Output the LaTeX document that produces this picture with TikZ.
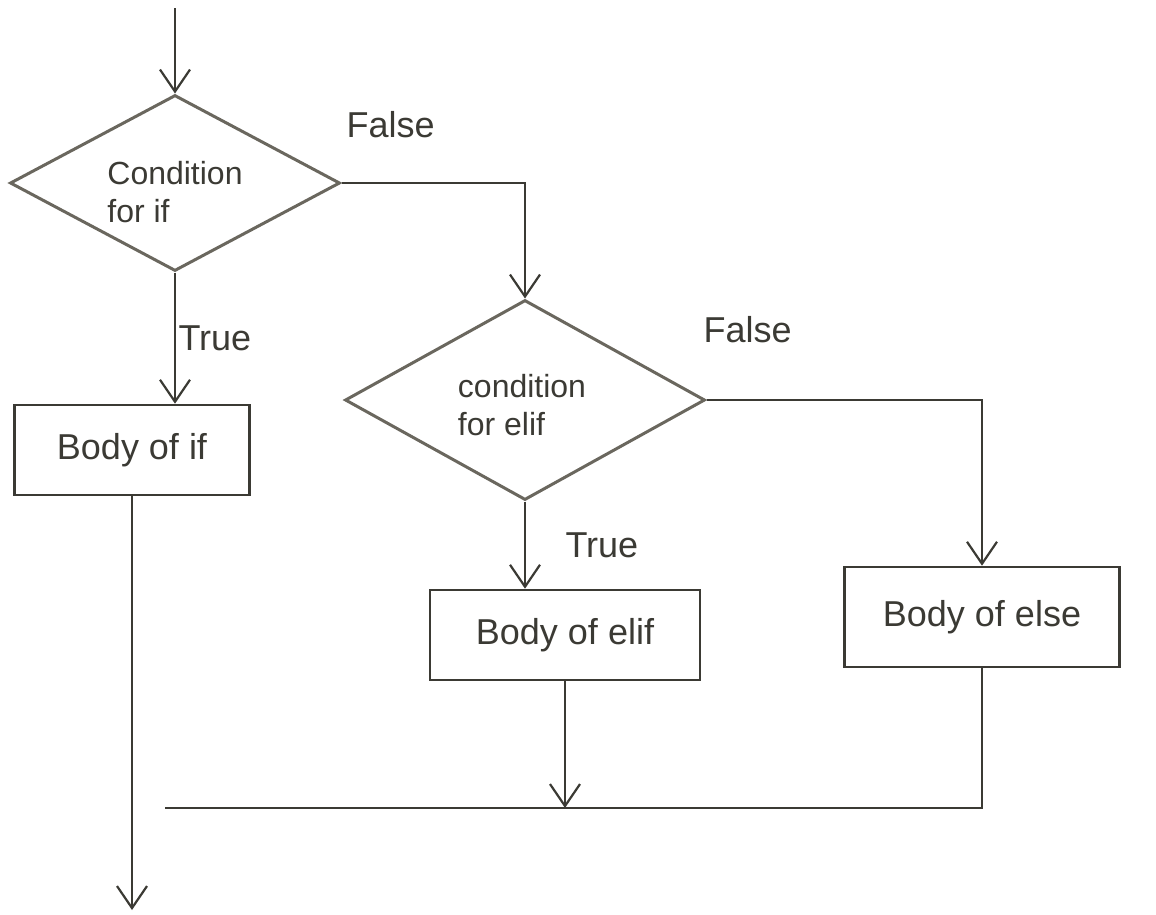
\documentclass[tikz,border=0pt]{standalone}
\usepackage{fontspec}
\setmainfont{Liberation Sans}
\usetikzlibrary{shapes.geometric,arrows.meta,calc}
\definecolor{pencil}{HTML}{3B3A34}
\definecolor{shade}{HTML}{6A675E}
\begin{document}
\begin{tikzpicture}[x=1pt,y=-1pt,
  every node/.style={font=\fontsize{36}{44}\selectfont, text=pencil},
  decision/.style={diamond, draw=shade, line width=3pt, inner sep=0pt},
  caption/.style={align=left, inner sep=0pt, font=\fontsize{32}{38}\selectfont},
  block/.style={rectangle, draw=pencil, line width=2.6pt, inner sep=6pt},
  flow/.style={draw=pencil, line width=2.2pt},
  arrowed/.style={flow, -{Straight Barb[length=22pt,width=30pt,line width=2.2pt]}},
  tag/.style={anchor=west}]
  \useasboundingbox (0,0) rectangle (1156,914);

  % decisions: outline first, wording laid over its centre
  \node[decision, minimum width=330pt, minimum height=176pt] (cif) at (175,183) {};
  \node[caption] (cifText) at (175,192) {Condition\\for if};
  \node[decision, minimum width=360pt, minimum height=200pt] (celif) at (525,400) {};
  \node[caption] (celifText) at (522,405) {condition\\for elif};

  % bodies
  \node[block, minimum width=235pt, minimum height=90pt] (bif) at (132,450) {Body of if};
  \node[block, minimum width=270pt, minimum height=90pt] (belif) at (565,635) {Body of elif};
  \node[block, minimum width=275pt, minimum height=100pt] (belse) at (982,617) {Body of else};

  % free ends
  \coordinate (entry) at (175,8);
  \coordinate (exit) at (132,910);
  \coordinate (joinL) at (165,808);
  \coordinate (joinR) at (982,808);

  % entry
  \draw[arrowed] (entry) -- (cif.north);

  % if branch
  \draw[arrowed] (cif.south) -- (cif.south |- bif.north);
  \node[tag] at (175,338) {True};
  \draw[arrowed] (cif.east) -- (celif.north |- cif.east) -- (celif.north);
  \node[tag] at (343,125) {False};

  % elif branch
  \draw[arrowed] (celif.south) -- (celif.south |- belif.north);
  \node[tag] at (562,545) {True};
  \draw[arrowed] (celif.east) -- (belse.north |- celif.east) -- (belse.north);
  \node[tag] at (700,330) {False};

  % merge
  \draw[arrowed] (belif.south) -- (belif.south |- joinL);
  \draw[flow] (belse.south) -- (joinR) -- (joinL);
  \draw[arrowed] (bif.south) -- (exit);
\end{tikzpicture}
\end{document}
